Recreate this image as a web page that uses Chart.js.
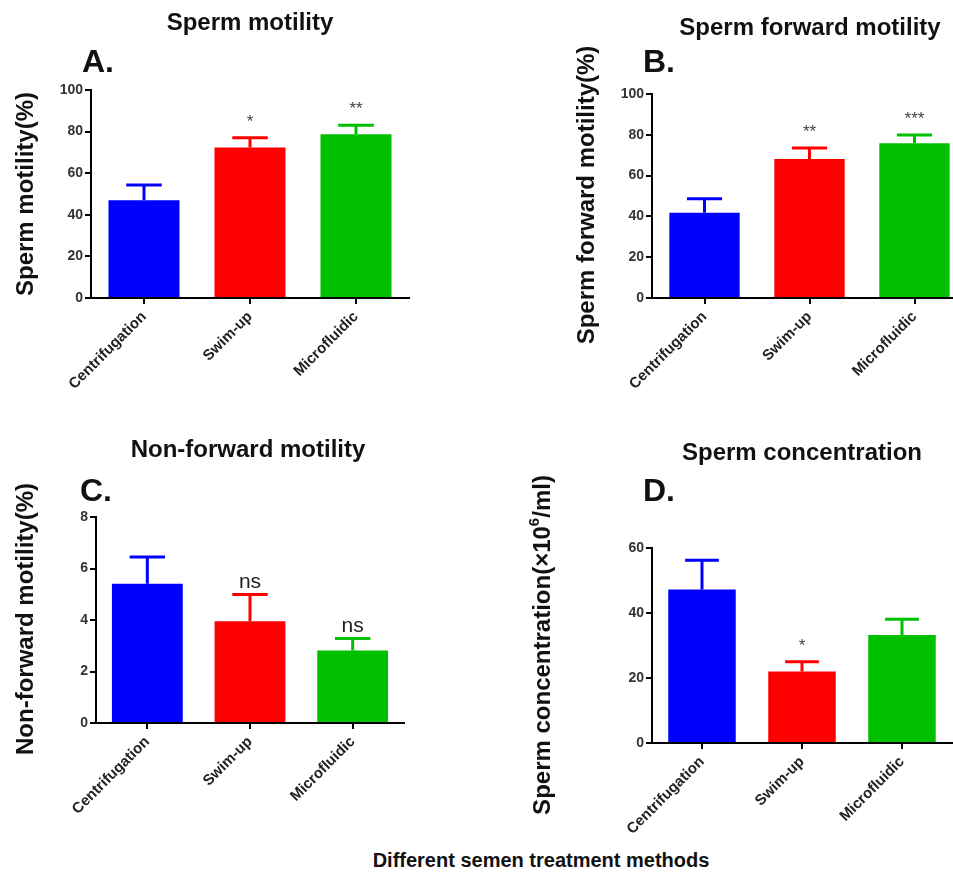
<!DOCTYPE html>
<html>
<head>
<meta charset="utf-8">
<script src="https://cdn.jsdelivr.net/npm/chart.js@4.4.1/dist/chart.umd.min.js"></script>
<style>
  html, body { margin: 0; padding: 0; background: #fff; overflow: hidden; }
  body { width: 953px; height: 878px; position: relative; }
  canvas { position: absolute; }
  #xTitle {
    position: absolute; left: 341px; top: 849px; width: 400px; text-align: center;
    font: bold 20px "Liberation Sans", Arial, sans-serif; color: #111;
  }
</style>
</head>
<body>
<canvas id="panelA" width="476" height="420" style="left:0px;top:0px"></canvas>
<canvas id="panelB" width="490" height="420" style="left:480px;top:0px"></canvas>
<canvas id="panelC" width="476" height="420" style="left:0px;top:420px"></canvas>
<canvas id="panelD" width="476" height="420" style="left:480px;top:420px"></canvas>
<div id="xTitle">Different semen treatment methods</div>

<script>
var methods = ['Centrifugation', 'Swim-up', 'Microfluidic'];
var barColors = ['#0000ff', '#ff0000', '#00c000'];

// A. sperm motility (%)
var motilityMean = [47, 72.3, 78.7];
var motilityErr = [7.3, 4.7, 4.3];
var motilitySig = ['', '*', '**'];
var motilityTicks = [0, 20, 40, 60, 80, 100];

// B. sperm forward motility (%)
var forwardMean = [41.8, 68.1, 75.8];
var forwardErr = [6.9, 5.4, 4.1];
var forwardSig = ['', '**', '***'];
var forwardTicks = [0, 20, 40, 60, 80, 100];

// C. non-forward motility (%)
var nonForwardMean = [5.41, 3.95, 2.82];
var nonForwardErr = [1.04, 1.04, 0.46];
var nonForwardSig = ['', 'ns', 'ns'];
var nonForwardTicks = [0, 2, 4, 6, 8];

// D. sperm concentration (x10^6/ml)
var concMean = [47.2, 22, 33.2];
var concErr = [9, 3, 4.9];
var concSig = ['', '*', ''];
var concTicks = [0, 20, 40, 60];

var FONT = '"Liberation Sans", Arial, sans-serif';

function makePanel(id, cfg) {
  var canvas = document.getElementById(id);
  var W = canvas.width, H = canvas.height;

  var panelText = {
    id: 'panelText',
    afterDatasetsDraw: function(chart) {
      var ctx = chart.ctx;
      var meta = chart.getDatasetMeta(0);
      var yScale = chart.scales.y;
      ctx.save();
      meta.data.forEach(function(bar, i) {
        var yTop = yScale.getPixelForValue(cfg.mean[i] + cfg.err[i]);
        var cap = bar.width * 0.5;
        ctx.strokeStyle = barColors[i];
        ctx.lineWidth = 3;
        ctx.beginPath();
        ctx.moveTo(bar.x, bar.y);
        ctx.lineTo(bar.x, yTop);
        ctx.moveTo(bar.x - cap / 2, yTop);
        ctx.lineTo(bar.x + cap / 2, yTop);
        ctx.stroke();
        var sig = cfg.sig[i];
        if (sig) {
          ctx.textAlign = 'center';
          ctx.textBaseline = 'alphabetic';
          if (sig === 'ns') {
            ctx.fillStyle = '#222';
            ctx.font = '21px ' + FONT;
            ctx.fillText(sig, bar.x, yTop - 7);
          } else {
            ctx.fillStyle = '#444';
            ctx.font = '17px ' + FONT;
            ctx.fillText(sig, bar.x, yTop - 11);
          }
        }
      });
      ctx.restore();
    },
    afterDraw: function(chart) {
      var ctx = chart.ctx;
      ctx.save();
      ctx.fillStyle = '#111';
      ctx.textBaseline = 'middle';
      ctx.textAlign = 'center';
      ctx.font = 'bold 24px ' + FONT;
      ctx.fillText(cfg.title, cfg.titlePos[0], cfg.titlePos[1]);

      ctx.textAlign = 'left';
      ctx.font = 'bold 32px ' + FONT;
      ctx.fillText(cfg.letter, cfg.letterPos[0], cfg.letterPos[1]);

      // rotated y axis title, with an optional superscript part
      ctx.translate(cfg.yTitlePos[0], cfg.yTitlePos[1]);
      ctx.rotate(-Math.PI / 2);
      var parts = cfg.yTitle;
      var widths = parts.map(function(p) {
        ctx.font = (p.sup ? 'bold 15px ' : 'bold 24px ') + FONT;
        return ctx.measureText(p.text).width;
      });
      var total = widths.reduce(function(a, b) { return a + b; }, 0);
      var x = -total / 2;
      parts.forEach(function(p, i) {
        ctx.font = (p.sup ? 'bold 15px ' : 'bold 24px ') + FONT;
        ctx.fillText(p.text, x, p.sup ? -8 : 0);
        x += widths[i];
      });
      ctx.restore();
    }
  };

  return new Chart(canvas, {
    type: 'bar',
    data: {
      labels: methods,
      datasets: [{
        data: cfg.mean,
        backgroundColor: barColors,
        borderWidth: 0,
        barPercentage: cfg.barPct,
        categoryPercentage: 1
      }]
    },
    options: {
      responsive: false,
      animation: false,
      layout: { padding: { left: 0, top: cfg.area[1], right: W - cfg.area[2], bottom: 0 } },
      plugins: { legend: { display: false }, tooltip: { enabled: false } },
      scales: {
        x: {
          grid: { offset: false, drawOnChartArea: false, color: '#000', lineWidth: 2, tickLength: 6 },
          border: { color: '#000', width: 2 },
          ticks: {
            autoSkip: false, maxRotation: 45, minRotation: 45, padding: 4,
            color: '#222', font: { family: FONT, weight: 'bold', size: 15 }
          },
          afterFit: function(scale) { scale.height = H - cfg.area[3]; }
        },
        y: {
          min: 0,
          max: cfg.ticks[cfg.ticks.length - 1],
          grid: { drawOnChartArea: false, color: '#000', lineWidth: 2, tickLength: 6 },
          border: { color: '#000', width: 2 },
          ticks: {
            padding: 2, color: '#333',
            font: { family: FONT, weight: 'bold', size: 14 }
          },
          afterBuildTicks: function(scale) {
            scale.ticks = cfg.ticks.map(function(v) { return { value: v }; });
          },
          afterFit: function(scale) { scale.width = cfg.area[0]; }
        }
      }
    },
    plugins: [panelText]
  });
}

makePanel('panelA', {
  mean: motilityMean, err: motilityErr, sig: motilitySig, ticks: motilityTicks,
  area: [91, 90, 409, 298], barPct: 0.67,
  title: 'Sperm motility', titlePos: [250, 23],
  letter: 'A.', letterPos: [82, 63],
  yTitle: [{ text: 'Sperm motility(%)' }], yTitlePos: [26, 194]
});

makePanel('panelB', {
  mean: forwardMean, err: forwardErr, sig: forwardSig, ticks: forwardTicks,
  area: [172, 94, 487, 298], barPct: 0.67,
  title: 'Sperm forward motility', titlePos: [330, 28],
  letter: 'B.', letterPos: [163, 63],
  yTitle: [{ text: 'Sperm forward motility(%)' }], yTitlePos: [107, 195]
});

makePanel('panelC', {
  mean: nonForwardMean, err: nonForwardErr, sig: nonForwardSig, ticks: nonForwardTicks,
  area: [96, 97, 404, 303], barPct: 0.69,
  title: 'Non-forward motility', titlePos: [248, 30],
  letter: 'C.', letterPos: [80, 72],
  yTitle: [{ text: 'Non-forward motility(%)' }], yTitlePos: [26, 199]
});

makePanel('panelD', {
  mean: concMean, err: concErr, sig: concSig, ticks: concTicks,
  area: [172, 128, 472, 323], barPct: 0.675,
  title: 'Sperm concentration', titlePos: [322, 33],
  letter: 'D.', letterPos: [163, 72],
  yTitle: [{ text: 'Sperm concentration(\u00d710' }, { text: '6', sup: true }, { text: '/ml)' }],
  yTitlePos: [63, 225]
});
</script>
</body>
</html>
